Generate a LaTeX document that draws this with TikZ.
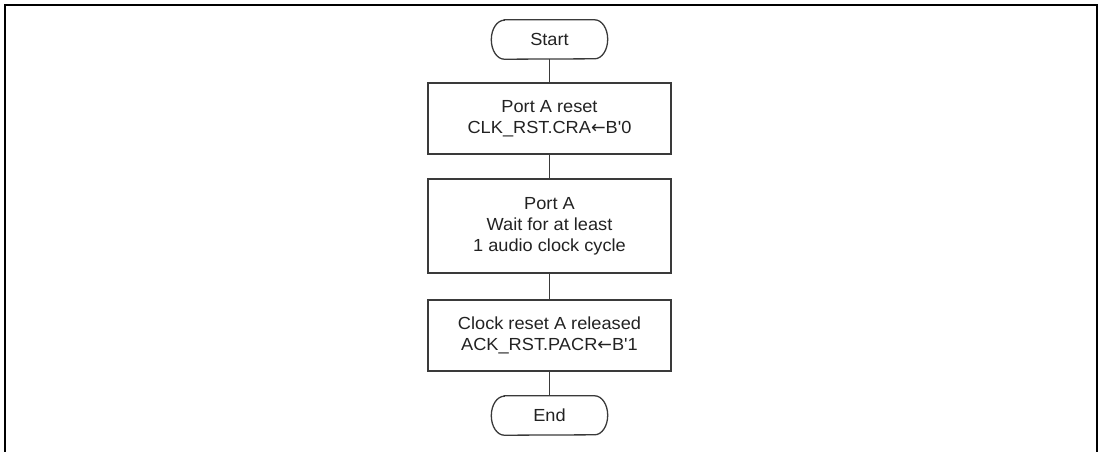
\documentclass[tikz,border=0pt]{standalone}
\usepackage{fontspec}
\setmainfont{Liberation Sans}[FakeStretch=1.04, Ligatures=TeXOff]
\newfontfamily\arrowfont{DejaVu Sans}
\newcommand{\larr}{{\arrowfont\fontsize{17.5}{17.5}\selectfont ←}}
\definecolor{ink}{HTML}{222222}
\definecolor{edge}{HTML}{3A3A3A}
\begin{document}
\begin{tikzpicture}[x=1pt,y=-1pt,
  txt/.style={font=\fontsize{17.5}{21}\selectfont, text=ink, align=center, inner sep=0pt},
  procbox/.style={txt, draw=edge, line width=1.3pt, minimum width=243pt},
  termnode/.style={txt, minimum width=116pt, minimum height=39pt},
  termline/.style={draw=edge, line width=1.3pt},
  conn/.style={draw=edge, line width=1.3pt},
  frame/.style={draw=black, line width=2.2pt}]
\useasboundingbox (0,0) rectangle (1101,451);
% outer frame, open at the bottom
\coordinate (fbl) at (5,452);
\coordinate (ftl) at (5,5);
\coordinate (ftr) at (1097,5);
\coordinate (fbr) at (1097,452);
\draw[frame] (fbl) -- (ftl) -- (ftr) -- (fbr);
% nodes
\node[termnode] (start) at (549.5,39.5) {Start};
\node[procbox, minimum height=71pt] (b1) at (549.5,118.5) {Port A reset\\CLK\_RST.CRA\larr B'0};
\node[procbox, minimum height=94pt] (b2) at (549.5,226) {Port A\\Wait for at least\\1 audio clock cycle};
\node[procbox, minimum height=71pt] (b3) at (549.5,335.5) {Clock reset A released\\ACK\_RST.PACR\larr B'1};
\node[termnode] (end) at (549.5,415.5) {End};
% terminal outlines
\foreach \t in {start,end}{
  \draw[termline] ([xshift=13pt]\t.north west) -- ([xshift=-13pt]\t.north east)
    arc[start angle=90,end angle=-90,x radius=13pt,y radius=19.5pt]
    -- ([xshift=13pt]\t.south west)
    arc[start angle=270,end angle=90,x radius=13pt,y radius=19.5pt] -- cycle;
}
% connectors
\draw[conn] (start.south) -- (b1.north);
\draw[conn] (b1.south) -- (b2.north);
\draw[conn] (b2.south) -- (b3.north);
\draw[conn] (b3.south) -- (end.north);
\end{tikzpicture}
\end{document}
